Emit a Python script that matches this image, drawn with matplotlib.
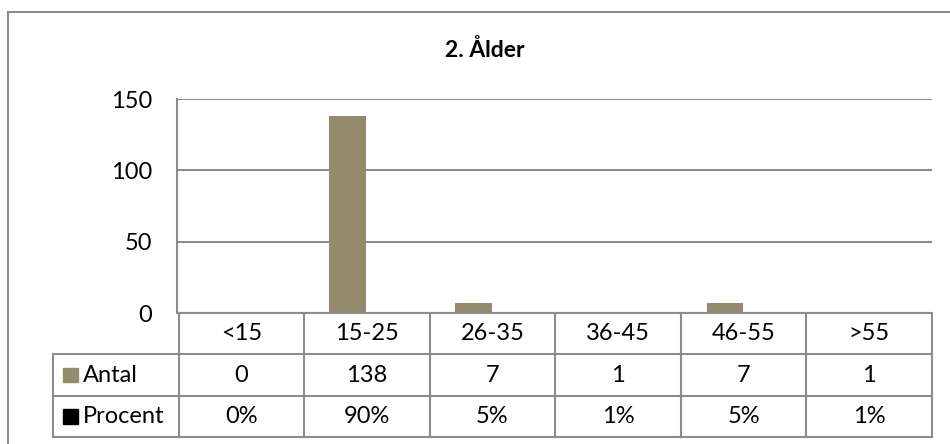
import matplotlib.pyplot as plt
import matplotlib.patches as mpatches
from matplotlib.lines import Line2D
import numpy as np

plt.rcParams['font.family'] = ['Lato', 'DejaVu Sans']

categories = ['<15', '15-25', '26-35', '36-45', '46-55', '>55']
antal = [0, 138, 7, 1, 7, 1]
procent = [0.00, 0.90, 0.05, 0.01, 0.05, 0.01]
procent_labels = ['0%', '90%', '5%', '1%', '5%', '1%']
title = '2. Ålder'

tan = '#948a6c'
gray = '#8c8c8c'
W, H = 950, 444
fs = 17

fig = plt.figure(figsize=(9.5, 4.44), dpi=100)

def px(x0, y0, x1, y1):
    # pixel box -> figure fraction
    return [x0 / W, 1 - y1 / H, (x1 - x0) / W, (y1 - y0) / H]

# outer chart border (only top and left are inside the picture)
bx, by = 8 / W, 1 - 12 / H
fig.lines.append(Line2D([bx, 1.0], [by, by], transform=fig.transFigure,
                        color=gray, lw=1.5))
fig.lines.append(Line2D([bx, bx], [0, by], transform=fig.transFigure,
                        color=gray, lw=1.5))

fig.text(485 / W, 1 - 50 / H, title, ha='center', va='center',
         fontsize=16.5, fontweight='bold')

# bar area
ax = fig.add_axes(px(177, 99, 932, 313))
x = np.arange(len(categories))
bw = 0.29
ax.bar(x - bw / 2, antal, bw, color=tan, zorder=3)
ax.bar(x + bw / 2, procent, bw, color='black', zorder=3)
ax.set_xlim(-0.5, 5.5)
ax.set_ylim(0, 150)
ax.set_yticks([0, 50, 100, 150])
ax.tick_params(axis='y', length=0, pad=18, labelsize=fs)
ax.set_xticks([])
for s in ['top', 'right', 'bottom']:
    ax.spines[s].set_visible(False)
ax.spines['left'].set_color(gray)
ax.spines['left'].set_linewidth(1.5)
ax.grid(axis='y', color=gray, linewidth=1.5, zorder=0)
ax.set_axisbelow(True)

# data table
tb = fig.add_axes(px(53, 313, 932, 437))
tb.set_xlim(-1.5, 5.5)
tb.set_ylim(3, 0)
tb.axis('off')
lw = 1.5
tb.plot([-0.5, 5.5], [0, 0], color=gray, lw=lw, clip_on=False)
for r in [1, 2, 3]:
    tb.plot([-1.5, 5.5], [r, r], color=gray, lw=lw, clip_on=False)
tb.plot([-1.5, -1.5], [1, 3], color=gray, lw=lw, clip_on=False)
for i in range(len(categories) + 1):
    tb.plot([i - 0.5, i - 0.5], [0, 3], color=gray, lw=lw, clip_on=False)

for i, c in enumerate(categories):
    tb.text(i, 0.5, c, ha='center', va='center', fontsize=fs)
    tb.text(i, 1.5, str(antal[i]), ha='center', va='center', fontsize=fs)
    tb.text(i, 2.5, procent_labels[i], ha='center', va='center', fontsize=fs)

for r, (name, col) in enumerate([('Antal', tan), ('Procent', 'black')]):
    tb.add_patch(mpatches.Rectangle((-1.42, r + 1.5 - 0.18), 0.12, 0.36,
                                    color=col, clip_on=False))
    tb.text(-1.26, r + 1.5, name, ha='left', va='center', fontsize=fs)

fig.savefig('out.png', dpi=100)
